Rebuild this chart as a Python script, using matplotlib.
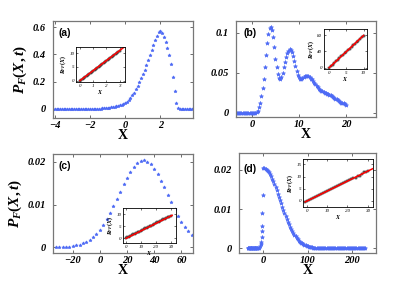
import numpy as np
import matplotlib
matplotlib.use("Agg")
import matplotlib.pyplot as plt

plt.rcParams['mathtext.fontset'] = 'custom'
plt.rcParams['mathtext.it'] = 'Liberation Serif:italic:bold'
plt.rcParams['mathtext.rm'] = 'Liberation Serif:bold'
plt.rcParams['mathtext.bf'] = 'Liberation Serif:bold'

# ---- panel (a) ----
a_x = [-4.1,-4.0,-3.9,-3.8,-3.7,-3.6,-3.5,-3.4,-3.3,-3.2,-3.1,-3.0,-2.9,-2.8,-2.7,-2.6,-2.5,-2.4,-2.3,-2.2,-2.1,
       -2.0,-1.9,-1.8,-1.7,-1.6,-1.5,-1.4,-1.3,-1.2,-1.1,-1.0,-0.9,-0.8,-0.7,-0.6,-0.5,-0.4,-0.3,-0.2,-0.1,
       0.0,0.1,0.2,0.3,0.4,0.5,0.6,0.7,0.8,0.9,1.0,1.1,1.2,1.3,1.4,1.5,1.6,1.7,1.8,1.9,
       2.0,2.1,2.2,2.3,2.4,2.5,2.6,2.7,2.8,2.9,3.0,3.1,3.2,3.3,3.4,3.5,3.6,3.7,3.8]
a_p = [0,0,0,0,0,0,0,0,0,0,0,0,0,0,0,0,0,0,0,0,0,
       0.001,0.001,0.001,0.002,0.002,0.003,0.003,0.004,0.005,0.006,0.007,0.009,0.011,0.013,0.016,0.019,0.023,0.027,0.032,0.038,
       0.045,0.054,0.066,0.082,0.100,0.120,0.143,0.168,0.195,0.224,0.255,0.288,0.322,0.358,0.395,0.432,0.470,0.506,0.538,0.562,
       0.572,0.560,0.527,0.490,0.450,0.395,0.330,0.235,0.130,0.046,0.008,0,0,0,0,0,0,0,0]
ia_x = [0.0,0.1,0.2,0.3,0.4,0.5,0.6,0.7,0.8,0.9,1.0,1.1,1.2,1.3,1.4,1.5,1.6,1.7,1.8,1.9,2.0,2.1,2.2,2.3,2.4,2.5,2.6,2.7,2.8,2.9,3.0]
ia_r = [0.0,0.35,0.75,1.1,1.45,1.8,2.2,2.55,2.9,3.25,3.65,4.0,4.35,4.7,5.1,5.45,5.8,6.15,6.55,6.9,7.25,7.6,8.0,8.35,8.7,9.05,9.45,9.8,10.15,10.5,10.9]
ia_fx = [0.0, 3.4]
ia_fy = [0.0, 12.4]

# ---- panel (b) ----
b_x = [-3.5,-3.25,-3.0,-2.75,-2.5,-2.25,-2.0,-1.75,-1.5,-1.25,-1.0,-0.75,-0.5,-0.25,0.0,0.25,0.5,0.75,
       1.0,1.25,1.5,1.75,2.0,2.25,2.5,2.75,3.0,3.25,3.5,3.75,4.0,
       4.25,4.5,4.75,5.0,5.25,5.5,5.75,6.0,6.25,6.5,6.75,7.0,7.25,7.5,7.75,8.0,
       8.25,8.5,8.75,9.0,9.25,9.5,9.75,10.0,10.25,10.5,10.75,11.0,11.25,11.5,11.75,12.0,
       12.25,12.5,12.75,13.0,13.25,13.5,13.75,14.0,14.25,14.5,14.75,15.0,15.25,15.5,15.75,16.0,
       16.25,16.5,16.75,17.0,17.25,17.5,17.75,18.0,18.25,18.5,18.75,19.0,19.25,19.5,19.75,20.0]
b_p = [0,0,0,0,0,0,0,0,0,0,0,0,0,0,0,0,0,0,
       0.001,0.003,0.007,0.013,0.021,0.031,0.043,0.057,0.072,0.087,0.099,0.106,0.108,
       0.104,0.095,0.082,0.068,0.057,0.049,0.044,0.043,0.045,0.050,0.057,0.064,0.070,0.075,0.078,0.080,
       0.079,0.076,0.071,0.065,0.059,0.053,0.048,0.045,0.043,0.043,0.044,0.045,0.046,0.046,0.046,0.046,
       0.045,0.043,0.042,0.040,0.038,0.036,0.034,0.032,0.030,0.029,0.028,0.027,0.026,0.025,0.0245,0.024,
       0.0235,0.023,0.022,0.021,0.020,0.019,0.018,0.017,0.016,0.015,0.014,0.013,0.0125,0.012,0.011,0.010]
ib_x = [0,0.5,1,1.5,2,2.5,3,3.5,4,4.5,5,5.5,6,6.5,7,7.5,8,8.5,9,9.5,10]
ib_r = [0.2,4.1,7.6,11.9,15.4,19.7,23.2,27.5,31.0,35.3,38.8,43.1,46.6,50.9,54.4,58.7,62.2,66.5,70.0,74.3,77.8]
ib_fx = [0.0, 10.0]
ib_fy = [0.0, 79.0]

# ---- panel (c) ----
c_x = [-32.5,-30,-27.5,-25,-22.5,-20,-17.5,-15,-12.5,-10,-7.5,-5,-2.5,0,2.5,5,7.5,10,12.5,15,
       17.5,20,22.5,25,27.5,30,32.5,35,37.5,40,42.5,45,47.5,50,52.5,55,57.5,60,62.5,65,67.5]
c_p = [0.00003,0.00005,0.00009,0.00013,0.00021,0.00031,0.00046,0.00067,0.00096,0.00133,
       0.00183,0.00246,0.00323,0.00418,0.0053,0.0066,0.0080,0.0096,0.0113,0.0130,
       0.0147,0.0163,0.0177,0.0188,0.0197,0.0202,0.0203,0.0200,0.0194,0.0184,
       0.0171,0.0156,0.0140,0.0123,0.0106,0.0090,0.0074,0.0060,0.0048,0.0038,0.0029]
ic_x = [0,1,2,3,4,5,6,7,8,9,10,11,12,13,14,15,16,17,18,19,20,21,22,23,24,25,26,27,28,29,30]
ic_r = [0.1,0.4,0.7,0.9,1.3,1.6,1.9,2.2,2.5,2.8,3.2,3.5,3.8,4.1,4.4,4.8,5.1,5.3,5.7,6.0,
        6.3,6.6,6.8,7.2,7.5,7.8,8.0,8.3,8.7,8.9,9.3]
ic_fx = [0.0, 31.0]
ic_fy = [0.0, 9.5]

# ---- panel (d) ----
d_x = [-35,-34,-33,-32,-31,-30,-29,-28,-27,-26,-25,-24,-23,-22,-21,-20,-19,-18,-17,-16,-15,-14,
       -12.5,-10,-8,-6,-5,-4,-3,-2.5,-2,-1.5,
       0,2.5,5,7.5,10,12.5,15,17.5,20,22.5,25,27.5,30,32.5,35,37.5,40,42.5,45,47.5,
       50,52.5,55,57.5,60,62.5,65,67.5,70,72.5,75,77.5,80,82.5,85,87.5,90,92.5,95,97.5,
       100,102.5,105,107.5,110,112.5,115,117.5,120,122.5,125,127.5,130,132.5,135,137.5,140,
       142.5,145,147.5,150,152.5,155,157.5,160,162.5,165,167.5,170,172.5,175,177.5,180,
       182.5,185,187.5,190,192.5,195,197.5,200,202.5,205,207.5,210,212.5,215,217.5,220,
       222.5,225,227.5,230]
d_p = [0,0,0,0,0,0,0,0,0,0,0,0,0,0,0,0,0,0,0,0,0,0,
       0.0001,0.0002,0.0005,0.0010,0.0017,0.0028,0.0045,0.0058,0.0090,0.0135,
       0.0205,0.02045,0.02031,0.02008,0.01976,0.01936,0.01888,0.01833,0.01771,0.01704,
       0.01632,0.01555,0.01476,0.01395,0.01311,0.01227,0.01143,0.01060,0.00979,0.00900,
       0.00823,0.00749,0.00679,0.00613,0.00550,0.00492,0.00438,0.00388,0.00342,0.00301,
       0.00263,0.00228,0.00198,0.00171,0.00146,0.00125,0.00106,0.00090,0.00076,0.00064,
       0.00053,0.00044,0.00037,0.00030,0.00025,0.00020,0.00016,0.00013,0.00011,0.00009,
       0.00007,0.00006,0.00004,0.00003,0.00003,0.00002,0.00002,
       0,0,0,0,0,0,0,0,0,0,0,0,0,0,0,0,
       0,0,0,0,0,0,0,0,0,0,0,0,0,0,0,0,
       0,0,0,0]
id_x = [-1,0,1,2,3,4,5,6,7,8,9,10,11,12,13,14,15,16,17,18,19,20,21,22,23,24,25,26,27,28,29,30]
id_r = [-0.4,0.0,0.5,0.8,1.2,1.7,2.0,2.4,2.9,3.2,3.6,4.1,4.4,4.8,5.3,5.6,6.0,6.5,6.8,7.2,7.7,8.0,
        8.4,8.9,9.2,9.6,10.1,10.4,11.0,11.8,12.0,12.1]
id_fx = [-1.0, 33.0]
id_fy = [-0.4, 13.4]

W, H = 415, 286
fig = plt.figure(figsize=(W/100, H/100), dpi=100)

def px(l, r, t, b):
    return [l/W, (H-b)/H, (r-l)/W, (b-t)/H]

blue = '#4d6af5'
tickfont = dict(fontsize=7.5, fontweight='bold', fontstyle='italic', family='Liberation Serif')
smallfont = dict(fontsize=3.6, fontstyle='italic', family='Liberation Serif')

def main_axes(rect, x, p, xlim, ylim, xt, xtl, yt, ytl, tag, tagpos, ylab, ms=2.4):
    ax = fig.add_axes(rect)
    ax.plot(x, p, ls='none', marker='*', ms=ms, mew=0.45, color=blue)
    ax.set_xlim(xlim)
    ax.set_ylim(ylim)
    ax.set_xticks(xt)
    ax.set_xticklabels(xtl, **tickfont)
    ax.set_yticks(yt)
    ax.set_yticklabels(ytl, **tickfont)
    ax.tick_params(direction='in', length=2.5, width=0.6, top=True, right=True, color='#555555')
    ax.tick_params(axis='x', pad=2.5)
    ax.tick_params(axis='y', pad=5)
    for s in ax.spines.values():
        s.set_color('#777777')
        s.set_linewidth(0.9)
    ax.set_xlabel('X', fontsize=10, fontweight='bold', family='Liberation Serif', labelpad=-1)
    if ylab:
        ax.set_ylabel(r'$P_F(X,t)$', fontsize=11, labelpad=3)
    ax.text(tagpos[0], tagpos[1], tag, transform=ax.transAxes, fontsize=7.5,
            fontweight='bold', family='Liberation Sans', va='center', ha='left')
    return ax

def inset(rect, x, r, fx, fy, xlim, ylim, xt, yt):
    ax = fig.add_axes(rect)
    ax.plot(x, r, ls='none', marker='s', ms=1.8, mfc='#9a9a9a', mec='k', mew=0.35)
    ax.plot(fx, fy, color='red', lw=1.1)
    ax.set_xlim(xlim)
    ax.set_ylim(ylim)
    ax.set_xticks(xt)
    ax.set_xticklabels([str(v) for v in xt], **smallfont)
    ax.set_yticks(yt)
    ax.set_yticklabels([str(v) for v in yt], **smallfont)
    ax.tick_params(direction='in', length=1.5, width=0.4, pad=1.2, top=True, right=True)
    for s in ax.spines.values():
        s.set_linewidth(0.6)
    ax.set_xlabel(r'$X$', fontsize=4.2, labelpad=0)
    ax.set_ylabel(r'$R_{FF}(X)$', fontsize=4.2, labelpad=1)
    return ax

m = '\u2212'
main_axes(px(53, 193, 21, 118), a_x, a_p, (-4.1, 3.85), (-0.066, 0.645),
          [-4, -2, 0, 2], [m+'4', m+'2', '0', '2'], [0, 0.2, 0.4, 0.6], ['0', '0.2', '0.4', '0.6'],
          '(a)', (0.04, 0.875), True)
inset(px(76, 125, 47, 82), ia_x, ia_r, ia_fx, ia_fy, (-0.3, 3.4), (-0.5, 12.2), [0, 1, 2, 3], [0, 5, 10])

main_axes(px(236, 376, 21, 117), b_x, b_p, (-3.4, 26.4), (-0.005, 0.115),
          [0, 10, 20], ['0', '10', '20'], [0, 0.05, 0.1], ['0', '0.05', '0.1'],
          '(b)', (0.055, 0.875), False, ms=3.0)
inset(px(324, 367, 29, 69), ib_x, ib_r, ib_fx, ib_fy, (-1.5, 11.0), (-3.2, 94.7), [0, 5, 10], [0, 40, 80])

main_axes(px(53, 193, 154, 253), c_x, c_p, (-34.5, 68.5), (-0.0013, 0.0218),
          [-20, 0, 20, 40, 60], [m+'20', '0', '20', '40', '60'], [0, 0.01, 0.02], ['0', '0.01', '0.02'],
          '(c)', (0.04, 0.88), True)
inset(px(123, 176, 208, 243), ic_x, ic_r, ic_fx, ic_fy, (-2.0, 33.6), (-1.9, 12.5), [0, 10, 20, 30], [0, 5, 10])

main_axes(px(239, 376, 153, 253), d_x, d_p, (-55, 254), (-0.0012, 0.0243),
          [0, 100, 200], ['0', '100', '200'], [0, 0.01, 0.02], ['0', '0.01', '0.02'],
          '(d)', (0.03, 0.84), False, ms=3.0)
inset(px(303, 373, 159, 207), id_x, id_r, id_fx, id_fy, (-2.1, 32.7), (-2.5, 17.2), [0, 10, 20, 30], [0, 5, 10, 15])

fig.savefig('out.png', dpi=100)
